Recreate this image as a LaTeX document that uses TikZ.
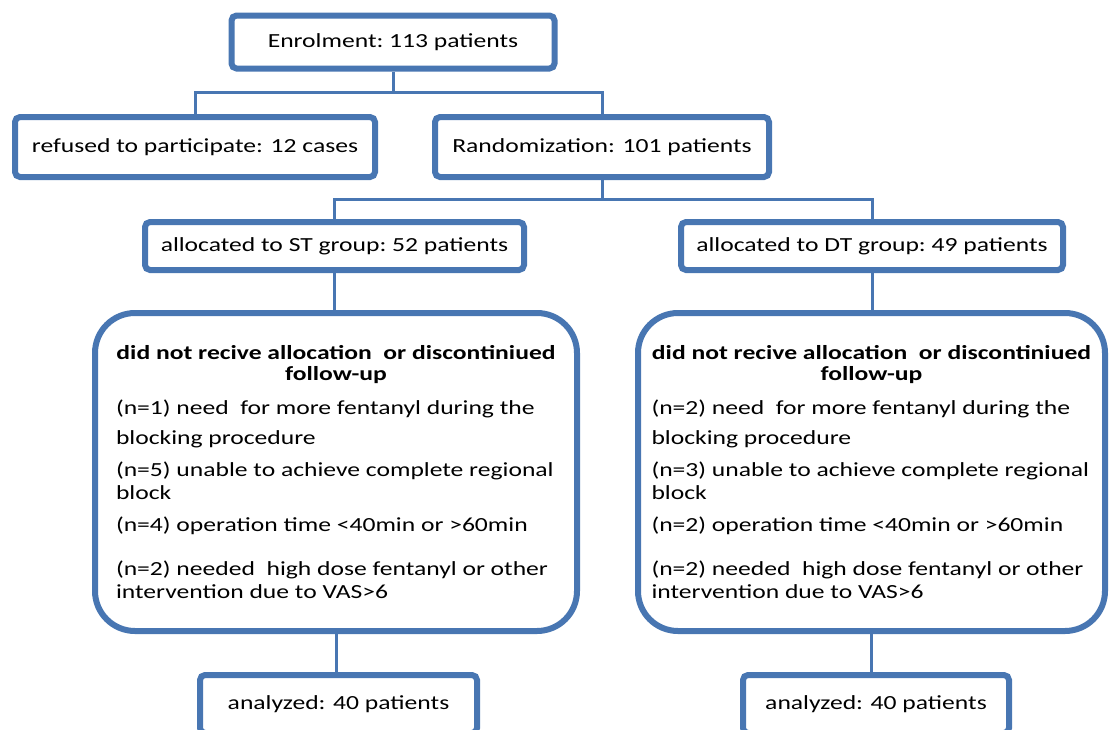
\documentclass[tikz,border=0pt]{standalone}
\usepackage{fontspec}
\setmainfont{Carlito}[FakeStretch=1.28]
\usetikzlibrary{positioning,shadows}
\definecolor{flowblue}{RGB}{72,118,178}
\newcommand{\losslist}[4]{%
  \begin{minipage}{440pt}
    \centering\bfseries did not recive allocation\ \ or discontiniued\\[-2pt]
    follow-up\par\vspace{11pt}
    \raggedright\mdseries
    (n=#1) need\ \ for more fentanyl during the\\[7pt]
    blocking procedure\\[9pt]
    (n=#2) unable to achieve complete regional\\
    block\\[9pt]
    (n=#3) operation time <40min or >60min\\[21pt]
    (n=#4) needed\ \ high dose fentanyl or other\\
    intervention due to VAS>6
  \end{minipage}}

\begin{document}
\begin{tikzpicture}[x=1pt,y=-1pt,
  box/.style={draw=flowblue,line width=6pt,fill=white,rounded corners=5pt,
    font=\fontsize{20}{23}\selectfont,
    drop shadow={opacity=0.2,shadow xshift=2pt,shadow yshift=-2pt}},
  roundbox/.style={box,rounded corners=40pt},
  link/.style={draw=flowblue,line width=3pt},
]
  \useasboundingbox (0,0) rectangle (1109,729);
  % top part
  \node[box,minimum width=323pt,minimum height=53pt] (enrol) at (393,42) {Enrolment:\ 113 patients};
  \node[box,minimum width=360pt,minimum height=60pt] (refused) at (195,147) {refused to participate: 12 cases};
  \node[box,minimum width=334pt,minimum height=60pt] (random) at (602,147) {Randomization: 101 patients};
  \node[box,minimum width=379pt,minimum height=48pt] (stgroup) at (334.5,246) {allocated to ST group:\ 52 patients};
  \node[box,minimum width=382pt,minimum height=48pt] (dtgroup) at (872,246) {allocated to DT group:\ 49 patients};
  % losses
  \node[roundbox,minimum width=482pt,minimum height=318pt] (stloss) at (336,472) {\losslist{1}{5}{4}{2}};
  \node[roundbox,minimum width=467pt,minimum height=318pt] (dtloss) at (871.5,472) {\losslist{2}{3}{2}{2}};
  % analysis
  \node[box,minimum width=277pt,minimum height=58pt] (stanalysed) at (338.5,704) {analyzed: 40 patients};
  \node[box,minimum width=266pt,minimum height=58pt] (dtanalysed) at (876,704) {analyzed: 40 patients};
  % connectors
  \coordinate (split1) at (393,92);
  \coordinate (split2) at (602,199);
  \draw[link] (enrol.south) -- (split1);
  \draw[link] (refused.north) |- (split1) -| (random.north);
  \draw[link] (random.south) -- (split2);
  \draw[link] (stgroup.north) |- (split2) -| (dtgroup.north);
  \draw[link] (stgroup.south) -- (stgroup.south |- stloss.north);
  \draw[link] (dtgroup.south) -- (dtgroup.south |- dtloss.north);
  \draw[link] (stloss.south) -- (stloss.south |- stanalysed.north);
  \draw[link] (dtloss.south) -- (dtloss.south |- dtanalysed.north);
\end{tikzpicture}
\end{document}
